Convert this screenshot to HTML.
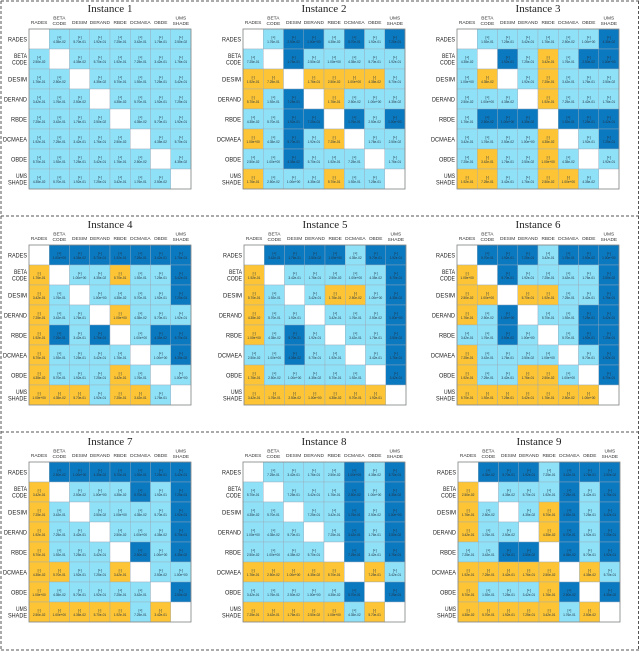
<!DOCTYPE html>
<html><head><meta charset="utf-8"><style>
html,body{margin:0;padding:0;background:#fff;}
svg{display:block}
</style></head><body>
<svg id="s" width="640" height="652" xmlns="http://www.w3.org/2000/svg"></svg>
<script>
const M={
1:["WLLLLLLL","LWLLLLLL","LLWLLLLL","LLLWLLLL","LLLLWLLL","LLLLLWLL","LLLLLLWL","LLLLLLLW"],
2:["WLDDLDLD","LWDLLLLL","OOWOOOOL","OLDWOLLL","LLDDWDLD","OLDLOWLL","LLDLLLWL","OLLLOLLW"],
3:["WLLLLLLD","LWDLOLDD","LOWLOLLL","LLLWOLLL","LDDDWDDD","LLLLOWLD","LOLLOLWL","OOLLOOLW"],
4:["WDDDDDDD","OWLLOLLD","OLWLLLLD","OLLWOLLL","ODLDWLDD","OLLLLWLD","OLLLOLWL","OOOLOOLW"],
5:["WDDDDLDD","OWLLLLLD","OLWLOOLD","OLLWLLLD","OLDLWLLD","LLDLLWLD","OLLLLLWD","OOOOOOOW"],
6:["WDDDLDDD","OWDLLLLD","OOWOOLLD","OLDWLLDD","LLDLWLDD","OLLLLWLD","OLLOOLWD","OOOOOOOW"],
7:["WDDDDDDD","OWLLLDLD","OLWLLLLD","OLLWLLLD","OLLLWDLD","OOLLOWLL","OLLLLLWD","OOOOOLOW"],
8:["WLLLLDLD","LWLLLDLD","LLWLLDLD","LLLWLDLD","LLLLWDLD","OOOOOWOL","LLLLLDWD","OOOOOLOW"],
9:["WDDDLDDD","OWLLLDLD","OLWLODLD","OLLWODLD","LLDDWDLD","OOOOOWOL","OLLLODWD","OOOOOLOW"]};
const P={1:[29,29],2:[243,29],3:[457,29],4:[29,245],5:[244,245],6:[457,245],7:[29,462],8:[243,462],9:[458,462]};
const C={L:"#8fe1f7",D:"#0b79c0",O:"#fdc536",W:"#ffffff"};
const names=[["RADES"],["BETA","CODE"],["DESIM"],["DERAND"],["RBDE"],["DCMAEA"],["OBDE"],["UMS","SHADE"]];
const TL={RADES:19,BETA:13,CODE:15,DESIM:19,DERAND:23,RBDE:16,DCMAEA:24,OBDE:16,UMS:11,SHADE:19};
const vals=["1.92e-01","1.00e+00","3.42e-01","5.70e-01","2.50e-02","7.25e-01","4.35e-02","1.76e-01"];
let h='';
const dash='stroke="#555" stroke-width="1" stroke-dasharray="3,2" fill="none"';
[1,216,432,650].forEach(y=>h+=`<line x1="1" y1="${y}" x2="639" y2="${y}" ${dash}/>`);
h+=`<line x1="1" y1="1" x2="1" y2="650" ${dash}/><line x1="638.5" y1="1" x2="638.5" y2="650" ${dash}/>`;
const F='font-family="Liberation Sans,sans-serif"';
function rl(x,y,s){return `<text x="${x-TL[s]}" y="${y}" ${F} font-size="6.2" textLength="${TL[s]}" lengthAdjust="spacingAndGlyphs" fill="#222">${s}</text>`;}
for(let k=1;k<=9;k++){
 const [gx,gy]=P[k];const W=162,H=160,cw=W/8,ch=H/8;
 h+=`<text x="${gx+W/2}" y="${gy-17}" font-family="Liberation Serif,serif" font-size="11" text-anchor="middle" fill="#222">Instance ${k}</text>`;
 for(let i=0;i<8;i++){
  const n=names[i];
  const cx=gx+cw*i+cw/2;
  if(n.length==1)h+=`<text x="${cx}" y="${gy-5}" ${F} font-size="4.8" text-anchor="middle" fill="#333">${n[0]}</text>`;
  else h+=`<text x="${cx}" y="${gy-9.5}" ${F} font-size="4.8" text-anchor="middle" fill="#333">${n[0]}</text><text x="${cx}" y="${gy-4}" ${F} font-size="4.8" text-anchor="middle" fill="#333">${n[1]}</text>`;
  const cy=gy+ch*i+ch/2;
  if(n.length==1)h+=rl(gx-2,cy+2.3,n[0]);
  else h+=rl(gx-2,cy-0.8,n[0])+rl(gx-2,cy+5.6,n[1]);
  for(let j=0;j<8;j++){
   const t=M[k][i][j];const x=gx+cw*j,y=gy+ch*i;
   h+=`<rect x="${x}" y="${y}" width="${cw}" height="${ch}" fill="${C[t]}" stroke="#9ab" stroke-width="0.4"/>`;
   if(t!='W'){const s=t=='O'?'[-]':'[+]';const v=vals[(i*3+j*5+k)%8];
    h+=`<text x="${x+cw/2}" y="${y+ch/2-0.5}" ${F} font-size="3.4" text-anchor="middle" fill="#234">${s}</text><text x="${x+cw/2}" y="${y+ch/2+4}" ${F} font-size="3.2" text-anchor="middle" fill="#234">${v}</text>`;}
  }
 }
 h+=`<rect x="${gx}" y="${gy}" width="${W}" height="${H}" fill="none" stroke="#888" stroke-width="0.8"/>`;
}
document.getElementById('s').innerHTML=h;
</script>
</body></html>
